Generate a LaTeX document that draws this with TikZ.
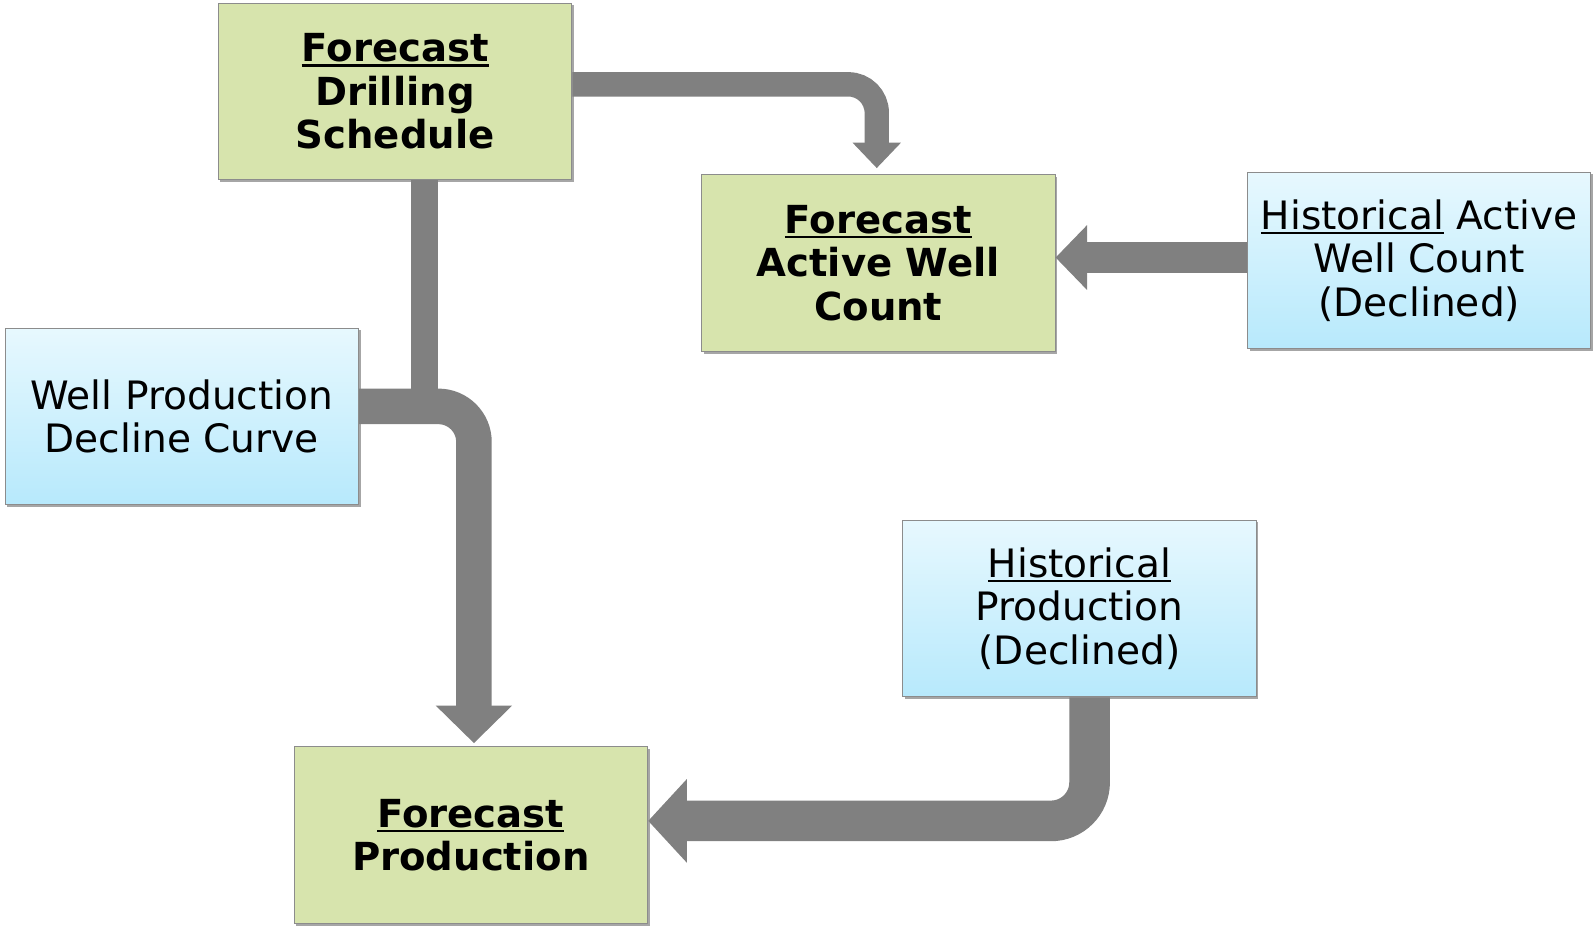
\documentclass[tikz,border=0pt]{standalone}
\usepackage{fontspec}
\setmainfont{DejaVu Sans}
\usetikzlibrary{arrows.meta,shadows,calc}
\definecolor{gfill}{RGB}{215,228,173}
\definecolor{btop}{RGB}{231,248,254}
\definecolor{bbot}{RGB}{183,233,252}
\definecolor{bcol}{RGB}{140,140,140}
\definecolor{acol}{RGB}{128,128,128}
\newcommand\myul[1]{\setbox0\hbox{#1}\rlap{\rule[-5pt]{\wd0}{2.5pt}}\box0\relax}
\begin{document}
\begin{tikzpicture}[x=1pt, y=-1pt,
  box/.style={draw=bcol, line width=1pt, minimum width=348pt, minimum height=174pt,
    align=center, inner sep=0pt,
    drop shadow={shadow xshift=2pt, shadow yshift=-2pt, fill=black, opacity=0.35}},
  gbox/.style={box, fill=gfill, font=\fontsize{38}{43}\selectfont\bfseries},
  bbox/.style={box, top color=btop, bottom color=bbot, font=\fontsize{38.5}{43}\selectfont},
  flow/.style={draw=acol, line cap=butt}
]
\useasboundingbox (0,0) rectangle (1568,911);

\node[gbox] (fds) at (389,90) {\myul{Forecast}\\Drilling\\Schedule};
\node[gbox] (afw) at (864.5,259) {\myul{Forecast}\\Active Well\\Count};
\node[bbox, minimum width=338pt] (hawc) at (1397,256.5) {\myul{Historical} Active\\Well Count\\(Declined)};
\node[bbox] (wpdc) at (179,410) {Well Production\\Decline Curve};
\node[bbox] (hp) at (1062.5,599) {\myul{Historical}\\Production\\(Declined)};
\node[gbox] (fp) at (463.5,822) {\myul{Forecast}\\Production};

% Drilling schedule -> active well count
\draw[flow, line width=24pt, rounded corners=28pt, -{Triangle[length=25pt,width=46pt]}]
  ([yshift=7pt]fds.east) -| ([yshift=6pt,xshift=-1.5pt]afw.north);

% Historical active well count -> forecast active well count
\coordinate (a2s) at ([yshift=3pt]hawc.west);
\draw[flow, line width=30pt, -{Triangle[length=31pt,width=62pt]}]
  (a2s) -- (a2s -| afw.east);

% Drilling schedule joins decline curve -> forecast production
\coordinate (m) at ([yshift=10pt]wpdc.east);
\draw[flow, line width=27pt] ([xshift=29pt]fds.south) -- ([xshift=29pt]fds.south |- m);
\draw[flow, line width=35pt, rounded corners=35pt, -{Triangle[length=37pt,width=73pt]}]
  (m) -| ([xshift=3pt,yshift=3pt]fp.north);

% Historical production -> forecast production
\draw[flow, line width=40pt, rounded corners=38pt, -{Triangle[length=38pt,width=80pt]}]
  ([xshift=10pt]hp.south) |- ([yshift=14pt]fp.east);
\end{tikzpicture}
\end{document}
